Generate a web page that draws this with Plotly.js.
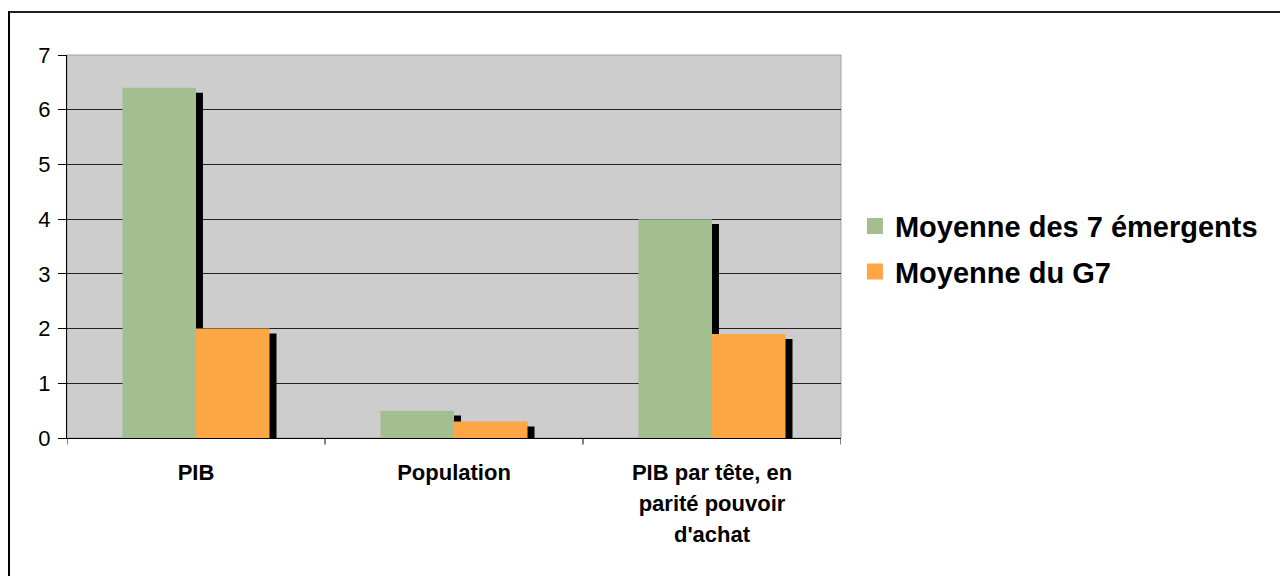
<!DOCTYPE html>
<html>
<head>
<meta charset="utf-8">
<script src="https://cdn.plot.ly/plotly-3.0.1.min.js"></script>
<style>
  html, body { margin: 0; padding: 0; background: #fff; }
  #wrap { position: relative; width: 1280px; height: 576px; }
  #chart { width: 1280px; height: 576px; }
  #frame { position: absolute; left: 8px; top: 11px; right: -4px; bottom: -4px;
           border-left: 2px solid #000; border-top: 2px solid #222; pointer-events: none; }
</style>
</head>
<body>
<div id="wrap"><div id="chart"></div><div id="frame"></div></div>
<script>
// ---- data ----
const categories = ["PIB", "Population", "PIB par tête, en parité pouvoir d'achat"];
const tickLabels = [["PIB"], ["Population"], ["PIB par tête, en", "parité pouvoir", "d'achat"]];
const emergents = [6.4, 0.5, 4.0];
const g7 = [2.0, 0.3, 1.9];
const seriesNames = ["Moyenne des 7 émergents", "Moyenne du G7"];
const yTicks = [0, 1, 2, 3, 4, 5, 6, 7];

// ---- style ----
const GREEN = "#A3BE8F", ORANGE = "#FDA646", SHADOW = "#000000";
const W = 0.285, SH = 0.027, DROP = 0.09;
const idx = categories.map((c, i) => i);

function shadowTrace(vals, offset) {
  return {
    type: "bar", x: idx, y: vals, base: -DROP, offset: offset + SH, width: W,
    marker: { color: SHADOW, line: { width: 0 } }, showlegend: false, hoverinfo: "skip"
  };
}

const data = [
  shadowTrace(emergents, -W),
  shadowTrace(g7, 0),
  { type: "bar", name: seriesNames[0], x: idx, y: emergents, offset: -W, width: W,
    marker: { color: GREEN, line: { width: 0 } }, legendgroup: "a", showlegend: false },
  { type: "bar", name: seriesNames[1], x: idx, y: g7, offset: 0, width: W,
    marker: { color: ORANGE, line: { width: 0 } }, legendgroup: "b", showlegend: false },
  // legend entries (larger square swatches)
  { type: "scatter", mode: "markers", name: seriesNames[0], x: [null], y: [null],
    marker: { symbol: "square", size: 22, color: GREEN, line: { width: 0 } }, legendgroup: "a" },
  { type: "scatter", mode: "markers", name: seriesNames[1], x: [null], y: [null],
    marker: { symbol: "square", size: 22, color: ORANGE, line: { width: 0 } }, legendgroup: "b" }
];

const tickText = tickLabels.map(lines =>
  lines.map(l => "<span style='font-size:22px'>" + l + "</span>").join("<br>"));

const layout = {
  width: 1280, height: 576,
  margin: { l: 67, r: 439, t: 55, b: 138 },
  paper_bgcolor: "#ffffff",
  plot_bgcolor: "#CDCDCD",
  barmode: "overlay",
  font: { family: "Liberation Sans, Arial, sans-serif", color: "#000" },
  xaxis: {
    type: "linear", range: [-0.5, 2.5],
    tickmode: "array", tickvals: idx, ticktext: tickText,
    ticks: "", showgrid: false, zeroline: false,
    showline: true, linecolor: "#000", linewidth: 1,
    tickfont: { size: 24, weight: "bold", color: "#000" },
    ticklabelstandoff: 12
  },
  yaxis: {
    range: [0, 7], tickmode: "array", tickvals: yTicks,
    ticks: "outside", ticklen: 8, tickcolor: "#000", tickwidth: 1,
    showgrid: true, gridcolor: "#222", gridwidth: 1,
    zeroline: false, showline: true, linecolor: "#000", linewidth: 1,
    tickfont: { size: 22, color: "#000" }, ticklabelstandoff: 3
  },
  showlegend: true,
  legend: {
    x: 1.018, xanchor: "left", y: 0.62, yanchor: "top",
    font: { size: 29, weight: "bold", color: "#000" },
    tracegroupgap: 5, bgcolor: "rgba(0,0,0,0)", itemwidth: 30
  },
  shapes: [
    { type: "rect", xref: "paper", yref: "paper", x0: 0, x1: 1, y0: 0, y1: 1,
      line: { color: "#A0A0A0", width: 1 }, layer: "below" }
  ].concat([0, 1, 2, 3].map(k => ({
    type: "line", xref: "x", yref: "paper", x0: k - 0.5, x1: k - 0.5, y0: 0, y1: -0.017,
    line: { color: "#000", width: 1 }
  })))
};

Plotly.newPlot("chart", data, layout, { displayModeBar: false, staticPlot: true });
</script>
</body>
</html>
